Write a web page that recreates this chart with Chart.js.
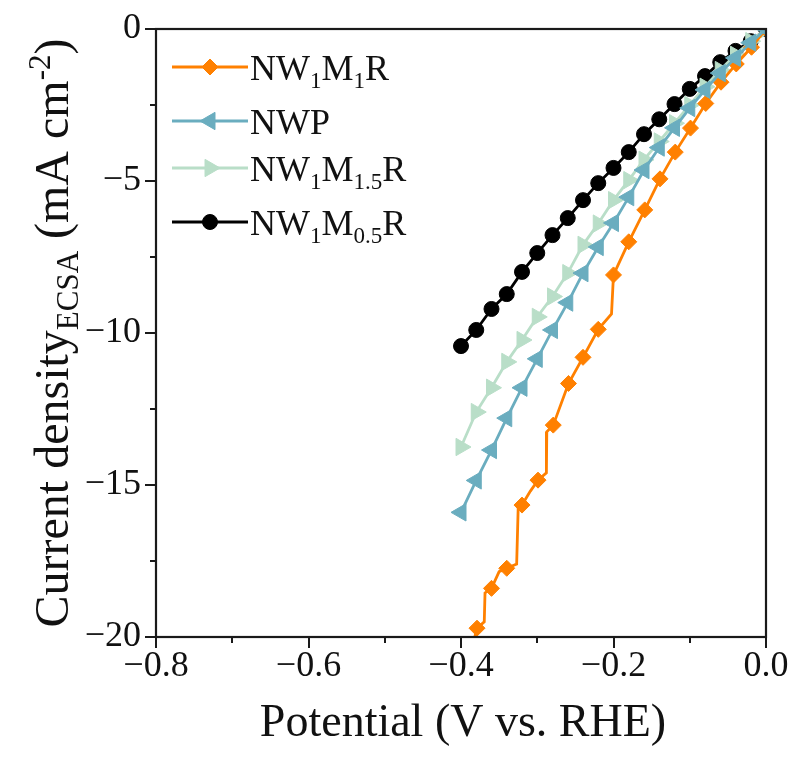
<!DOCTYPE html>
<html>
<head>
<meta charset="utf-8">
<script src="https://cdn.jsdelivr.net/npm/chart.js@4/dist/chart.umd.min.js"></script>
<style>
html,body{margin:0;padding:0;background:#ffffff;}
#wrap{width:795px;height:767px;position:relative;}
</style>
</head>
<body>
<div id="wrap"><canvas id="c" width="795" height="767"></canvas></div>
<script>
// ---------------- data ----------------
const seriesLabels = ['NW_{1}M_{1}R', 'NWP', 'NW_{1}M_{1.5}R', 'NW_{1}M_{0.5}R'];

const potentialGrid = [-0.40,-0.38,-0.36,-0.34,-0.32,-0.30,-0.28,-0.26,-0.24,-0.22,-0.20,-0.18,-0.16,-0.14,-0.12,-0.10,-0.08,-0.06,-0.04,-0.02,0.00];

const nwpCurrent     = [-15.9,-14.85,-13.85,-12.8,-11.8,-10.85,-9.9,-9.0,-8.03,-7.17,-6.38,-5.53,-4.64,-3.9,-3.25,-2.6,-2.0,-1.45,-0.95,-0.45,0.0];
const nw1m15rCurrent = [-13.75,-12.6,-11.8,-10.95,-10.23,-9.47,-8.8,-8.03,-7.1,-6.4,-5.63,-4.97,-4.3,-3.7,-3.1,-2.5,-1.9,-1.35,-0.85,-0.4,0.0];
const nw1m05rCurrent = [-10.43,-9.9,-9.21,-8.72,-7.99,-7.37,-6.78,-6.22,-5.63,-5.07,-4.57,-4.05,-3.46,-2.97,-2.47,-1.97,-1.55,-1.09,-0.72,-0.4,0.0];

// NW1M1R: marked points and the extra vertices of its stepped trace
const nw1m1rMarkerPotential = [0.0,-0.019,-0.039,-0.059,-0.079,-0.099,-0.119,-0.139,-0.159,-0.180,-0.200,-0.220,-0.240,-0.259,-0.279,-0.299,-0.320,-0.340,-0.360,-0.379];
const nw1m1rMarkerCurrent   = [0.0,-0.6,-1.15,-1.75,-2.45,-3.26,-4.05,-4.93,-5.95,-7.0,-8.09,-9.88,-10.8,-11.66,-13.03,-14.84,-15.66,-17.74,-18.4,-19.71];
const nw1m1rStepPotential   = [-0.2026,-0.2875,-0.2880,-0.309,-0.3250,-0.3270,-0.350,-0.3685,-0.3695,-0.386];
const nw1m1rStepCurrent     = [-9.37,-13.25,-14.6,-15.2,-15.75,-17.6,-17.85,-18.55,-19.5,-20.4];

const xTickLabels = [-0.8,-0.6,-0.4,-0.2,0.0];
const yTickLabels = [0,-5,-10,-15,-20];

// ---------------- helpers ----------------
const FONT = "'Liberation Serif','Times New Roman',serif";
const COLORS = ['#FF8000', '#6AADBF', '#B9DEC8', '#000000'];
const pts = (xs, ys) => xs.map((x, i) => ({x: x, y: ys[i]}));
const orangeLine = pts(nw1m1rMarkerPotential, nw1m1rMarkerCurrent)
  .concat(pts(nw1m1rStepPotential, nw1m1rStepCurrent))
  .sort((a, b) => (b.x - a.x) || (b.y - a.y));
const fmtMinus = s => s.replace('-', '\u2212');

function parseLabel(lbl) {
  const segs = [];
  const re = /_\{([^}]*)\}|\^\{([^}]*)\}|([^_^]+)/g;
  let m;
  while ((m = re.exec(lbl)) !== null) {
    if (m[1] !== undefined) segs.push({t: m[1], k: 'sub'});
    else if (m[2] !== undefined) segs.push({t: m[2], k: 'sup'});
    else segs.push({t: m[3], k: 'n'});
  }
  return segs;
}

function drawRich(ctx, segs, x, y, size, subSize, subDy, supDy, align) {
  const w = segs.map(s => {
    ctx.font = (s.k === 'n' ? size : subSize) + 'px ' + FONT;
    return ctx.measureText(s.t).width;
  });
  const total = w.reduce((a, b) => a + b, 0);
  let cx = align === 'center' ? x - total / 2 : x;
  segs.forEach((s, i) => {
    ctx.font = (s.k === 'n' ? size : subSize) + 'px ' + FONT;
    const dy = s.k === 'sub' ? subDy : (s.k === 'sup' ? supDy : 0);
    ctx.fillText(s.t, cx, y + dy);
    cx += w[i];
  });
}

function marker(ctx, style, x, y, r, color) {
  ctx.save();
  ctx.fillStyle = color; ctx.strokeStyle = color; ctx.lineWidth = 1;
  ctx.beginPath();
  if (style === 'circle') {
    ctx.arc(x, y, r, 0, Math.PI * 2);
  } else if (style === 'diamond') {
    ctx.moveTo(x, y - r); ctx.lineTo(x + r, y); ctx.lineTo(x, y + r); ctx.lineTo(x - r, y);
  } else if (style === 'left' || style === 'right') {
    const rad = (style === 'left' ? -90 : 90) * Math.PI / 180;
    for (let k = 0; k < 3; k++) {
      const a = rad + k * 2 * Math.PI / 3;
      const px = x + Math.sin(a) * r, py = y - Math.cos(a) * r;
      if (k === 0) ctx.moveTo(px, py); else ctx.lineTo(px, py);
    }
  }
  ctx.closePath(); ctx.fill(); ctx.stroke();
  ctx.restore();
}

const legendRows = [
  {y: 67, style: 'diamond', r: 8},
  {y: 121, style: 'left', r: 10},
  {y: 168, style: 'right', r: 10},
  {y: 222, style: 'circle', r: 7.5}
];

const decor = {
  id: 'decor',
  afterDatasetsDraw(chart) {
    const ctx = chart.ctx;
    const a = chart.chartArea;
    const xs = chart.scales.x, ys = chart.scales.y;
    ctx.save();
    // frame
    ctx.strokeStyle = '#1a1a1a';
    ctx.lineWidth = 2.2;
    ctx.strokeRect(a.left, a.top, a.right - a.left, a.bottom - a.top);
    // ticks
    ctx.lineWidth = 2;
    ctx.beginPath();
    for (let k = 0; k <= 8; k++) {
      const v = -0.8 + k * 0.1;
      const px = Math.round(xs.getPixelForValue(v));
      const len = (k % 2 === 0) ? 11 : 6;
      ctx.moveTo(px, a.bottom); ctx.lineTo(px, a.bottom + len);
    }
    for (let k = 0; k <= 8; k++) {
      const v = -k * 2.5;
      const py = Math.round(ys.getPixelForValue(v));
      const len = (k % 2 === 0) ? 11 : 6;
      ctx.moveTo(a.left, py); ctx.lineTo(a.left - len, py);
    }
    ctx.stroke();

    // legend
    ctx.fillStyle = '#111';
    ctx.textBaseline = 'alphabetic';
    ctx.textAlign = 'left';
    legendRows.forEach((row, i) => {
      ctx.strokeStyle = COLORS[i];
      ctx.lineWidth = 2.8;
      ctx.beginPath(); ctx.moveTo(172, row.y); ctx.lineTo(248, row.y); ctx.stroke();
      marker(ctx, row.style, 210, row.y, row.r, COLORS[i]);
      ctx.fillStyle = '#111';
      drawRich(ctx, parseLabel(seriesLabels[i]), 250, row.y + 13, 36, 23, 8, -14, 'left');
    });

    // axis titles
    ctx.fillStyle = '#111';
    drawRich(ctx, parseLabel('Potential (V vs. RHE)'), (a.left + a.right) / 2 + 2, 736, 46, 30, 9, -16, 'center');
    ctx.save();
    ctx.translate(68, (a.top + a.bottom) / 2);
    ctx.rotate(-Math.PI / 2);
    drawRich(ctx, parseLabel('Current density_{ECSA} (mA cm^{-2})'), 0, 0, 48, 31, 10, -18, 'center');
    ctx.restore();
    ctx.restore();
  }
};

Chart.defaults.font.family = FONT;

new Chart(document.getElementById('c'), {
  type: 'scatter',
  data: {
    datasets: [
      {label: 'NWP', data: pts(potentialGrid, nwpCurrent), showLine: true, borderColor: COLORS[1], backgroundColor: COLORS[1],
       borderWidth: 2.8, pointStyle: 'triangle', rotation: -90, pointRadius: 10, pointBorderWidth: 1, order: 0},
      {label: 'NW1M1R', data: pts(nw1m1rMarkerPotential, nw1m1rMarkerCurrent), showLine: false, borderColor: COLORS[0], backgroundColor: COLORS[0],
       pointStyle: 'rectRot', pointRadius: 8, pointBorderWidth: 1, order: 1},
      {label: 'NW1M1R line', data: orangeLine, showLine: true, borderColor: COLORS[0], backgroundColor: COLORS[0],
       borderWidth: 2.8, pointRadius: 0, order: 2},
      {label: 'NW1M1.5R', data: pts(potentialGrid, nw1m15rCurrent), showLine: true, borderColor: COLORS[2], backgroundColor: COLORS[2],
       borderWidth: 2.8, pointStyle: 'triangle', rotation: 90, pointRadius: 10, pointBorderWidth: 1, order: 3},
      {label: 'NW1M0.5R', data: pts(potentialGrid, nw1m05rCurrent), showLine: true, borderColor: COLORS[3], backgroundColor: COLORS[3],
       borderWidth: 2.8, pointStyle: 'circle', pointRadius: 7.5, pointBorderWidth: 1, order: 4}
    ]
  },
  options: {
    responsive: false,
    animation: false,
    devicePixelRatio: 1,
    layout: {padding: {top: 29, right: 29, left: 0, bottom: 0}},
    plugins: {legend: {display: false}, tooltip: {enabled: false}},
    scales: {
      x: {
        type: 'linear', min: -0.8, max: 0,
        grid: {display: false, drawTicks: false}, border: {display: false},
        afterFit: s => { s.height = 130; s.paddingLeft = 0; s.paddingRight = 0; },
        afterBuildTicks: s => { s.ticks = xTickLabels.map(v => ({value: v})); },
        ticks: {autoSkip: false, maxRotation: 0, padding: 8, color: '#111',
          font: {size: 36, family: FONT},
          callback: v => { const s = Math.abs(v) < 1e-9 ? '0.0' : Number(v).toFixed(1); return fmtMinus(s); }}
      },
      y: {
        type: 'linear', min: -20, max: 0,
        grid: {display: false, drawTicks: false}, border: {display: false},
        afterFit: s => { s.width = 156; s.paddingTop = 0; s.paddingBottom = 0; },
        afterBuildTicks: s => { s.ticks = yTickLabels.map(v => ({value: v})); },
        ticks: {autoSkip: false, padding: 15, color: '#111',
          font: {size: 36, family: FONT},
          callback: v => fmtMinus(String(Math.round(v)))}
      }
    }
  },
  plugins: [decor]
});
</script>
</body>
</html>
